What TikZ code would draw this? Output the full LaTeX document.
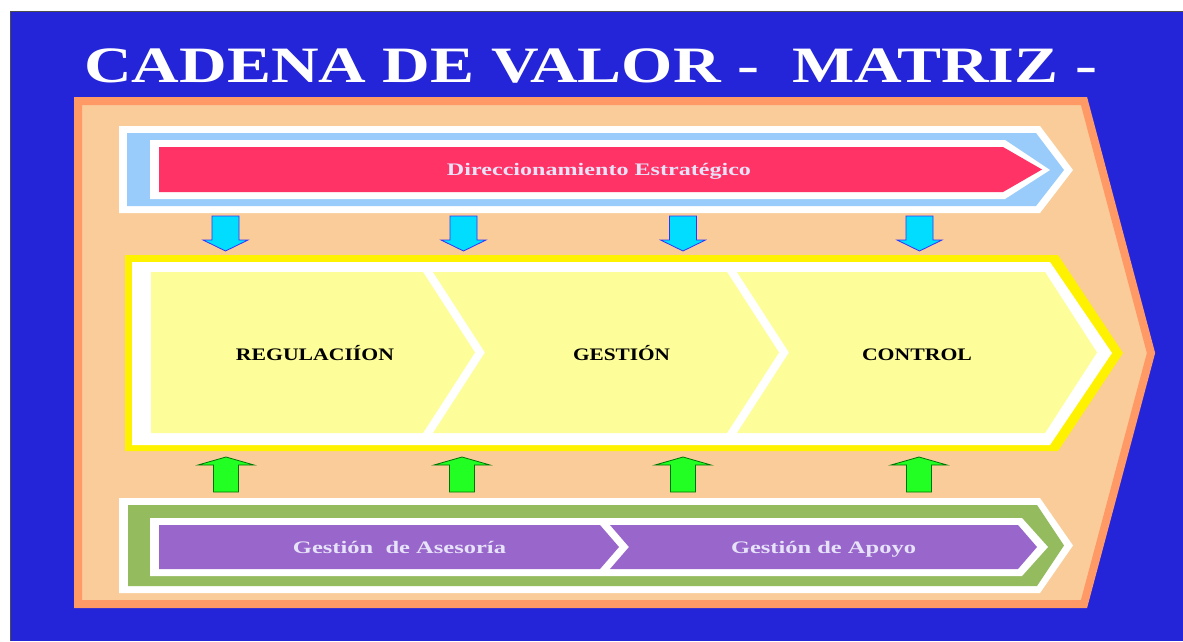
\documentclass[tikz,border=0pt]{standalone}
\usepackage{fontspec}
\setmainfont{Liberation Serif}
\definecolor{FondoAzul}{HTML}{2424D8}
\definecolor{BordeNaranja}{HTML}{FF9966}
\definecolor{Durazno}{HTML}{F9CC99}
\definecolor{CelesteBanda}{HTML}{99CCFB}
\definecolor{RojoDir}{HTML}{FF3366}
\definecolor{AmarilloPalido}{HTML}{FDFD99}
\definecolor{VerdeBanda}{HTML}{95BB5F}
\definecolor{MoradoApoyo}{HTML}{9966CC}
\definecolor{CianFlecha}{HTML}{00DDFF}
\definecolor{VerdeFlecha}{HTML}{22FF22}
\definecolor{Lavanda}{HTML}{E6E2F8}
\usetikzlibrary{positioning}
\newcommand{\anchoTxt}[2]{\resizebox{#1}{\height}{#2}}

\begin{document}
\begin{tikzpicture}
	[x=1pt, y=-1pt,
	every node/.style = {inner sep=0pt, anchor=base},
	titulo/.style = {text=white, font=\fontsize{51}{51}\selectfont\bfseries},
	etiqueta/.style = {text=Lavanda, font=\fontsize{17.6}{18}\selectfont\bfseries},
	proceso/.style = {text=black, font=\fontsize{17.6}{18}\selectfont\bfseries},
	bajada/.style = {fill=CianFlecha, draw=blue!80!white, line width=0.8pt},
	subida/.style = {fill=VerdeFlecha, draw=green!45!black, line width=0.8pt}]
	% fondo
	\fill[white] (0,0) rectangle (1183,641);
	\useasboundingbox (0,0) rectangle (1183,641);
	\fill[FondoAzul] (11,12) rectangle (1183,641);
	\draw[black!70, line width=1pt] (10.5,641) -- (10.5,11.5) -- (1183,11.5);
	\node[titulo, anchor=base west] (titulo) at (84,82)
		{\anchoTxt{1013pt}{CADENA DE VALOR -\ \ MATRIZ -}};
	% marco exterior
	\filldraw[fill=Durazno, draw=BordeNaranja, line width=8pt, line join=miter]
		(78,101) -- (1084,101) -- (1151,353) -- (1084,604) -- (78,604) -- cycle;
	% banda superior
	\fill[white] (119,126) -- (1040,126) -- (1073,170) -- (1040,213) -- (119,213) -- cycle;
	\fill[CelesteBanda] (127,133) -- (1036,133) -- (1064,170) -- (1036,206) -- (127,206) -- cycle;
	\fill[white] (150,140) -- (1005,140) -- (1050,170) -- (1005,199) -- (150,199) -- cycle;
	\fill[RojoDir] (159,147) -- (1003,147) -- (1042,169.5) -- (1003,192) -- (159,192) -- cycle;
	\node[etiqueta] (direccion) at (599,175) {\anchoTxt{304pt}{Direccionamiento Estratégico}};
	% flechas hacia abajo
	\foreach \c in {225.5,463.5,683,919.5}
		\draw[bajada] ({\c-13.5},216) -- ({\c+13.5},216) -- ({\c+13.5},240) -- ({\c+22.5},240)
			-- (\c,251) -- ({\c-22.5},240) -- ({\c-13.5},240) -- cycle;
	% banda central
	\fill[yellow] (125,255) -- (1058,255) -- (1123,353) -- (1058,451) -- (125,451) -- cycle;
	\fill[white] (132,262) -- (1050,262) -- (1112,353) -- (1050,445) -- (132,445) -- cycle;
	\fill[AmarilloPalido] (151,272) -- (423,272) -- (475,352.5) -- (423,433) -- (151,433) -- cycle;
	\fill[AmarilloPalido] (433,272) -- (727,272) -- (779,352.5) -- (727,433) -- (433,433)
		-- (485,352.5) -- cycle;
	\fill[AmarilloPalido] (737,272) -- (1045,272) -- (1097,352.5) -- (1045,433) -- (737,433)
		-- (789,352.5) -- cycle;
	\node[proceso] (regulacion) at (315,360) {\anchoTxt{158pt}{REGULACIÍON}};
	\node[proceso] (gestion) at (621.5,360) {\anchoTxt{97pt}{GESTIÓN}};
	\node[proceso] (control) at (917,360) {\anchoTxt{110pt}{CONTROL}};
	% flechas hacia arriba
	\foreach \c in {226,462,683,919}
		\draw[subida] ({\c-12.5},492) -- ({\c+12.5},492) -- ({\c+12.5},465) -- ({\c+28},465)
			-- (\c,457) -- ({\c-28},465) -- ({\c-12.5},465) -- cycle;
	% banda inferior
	\fill[white] (119,498) -- (1040,498) -- (1073,545.5) -- (1040,593) -- (119,593) -- cycle;
	\fill[VerdeBanda] (128,505) -- (1037,505) -- (1064,545.5) -- (1037,586) -- (128,586) -- cycle;
	\fill[white] (150,518) -- (1022,518) -- (1048,547) -- (1022,576) -- (150,576) -- cycle;
	\fill[MoradoApoyo] (159,525) -- (600,525) -- (619,547) -- (600,569) -- (159,569) -- cycle;
	\fill[MoradoApoyo] (610,525) -- (1018,525) -- (1037,547) -- (1018,569) -- (610,569)
		-- (629,547) -- cycle;
	\node[etiqueta] (asesoria) at (399.5,553) {\anchoTxt{213pt}{Gestión\ \ de Asesoría}};
	\node[etiqueta] (apoyo) at (823.5,553) {\anchoTxt{185pt}{Gestión de Apoyo}};
\end{tikzpicture}
\end{document}
